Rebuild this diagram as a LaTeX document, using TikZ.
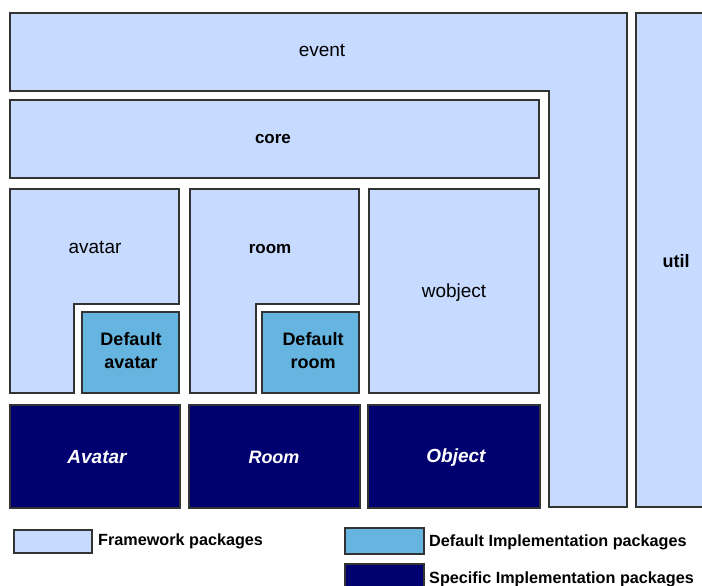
\documentclass[tikz,border=0pt]{standalone}
\usepackage{fontspec}
\setmainfont{Liberation Sans}
\definecolor{fwfill}{RGB}{198,219,255}
\definecolor{dffill}{RGB}{102,181,224}
\definecolor{spfill}{RGB}{0,0,112}
\definecolor{edge}{RGB}{51,51,51}
\begin{document}
\begin{tikzpicture}[x=1pt,y=-1pt,
  pkg/.style={draw=edge,line width=1.2pt,line join=miter},
  fw/.style={pkg,fill=fwfill},
  df/.style={pkg,fill=dffill},
  sp/.style={pkg,fill=spfill},
  lbl/.style={anchor=base,inner sep=0pt,text=black},
  reg/.style={lbl,font=\fontsize{19}{21}\selectfont},
  bld/.style={lbl,font=\fontsize{17}{19}\selectfont\bfseries},
  dfl/.style={lbl,align=center,anchor=center,font=\fontsize{18}{23}\selectfont\bfseries},
  spl/.style={lbl,text=white,font=\fontsize{19}{21}\selectfont\bfseries\itshape},
  leg/.style={anchor=base west,inner sep=0pt,font=\fontsize{16.2}{18}\selectfont\bfseries}]
\useasboundingbox (0,0) rectangle (702,586);
\clip (0,0) rectangle (702,586);

% framework packages
\draw[fw] (10,13) -- (627,13) -- (627,507) -- (549,507) -- (549,91) -- (10,91) -- cycle;
\draw[fw] (636,13) rectangle (715,507);
\draw[fw] (10,100) rectangle (539,178);
\draw[fw] (10,189) -- (179,189) -- (179,304) -- (74,304) -- (74,393) -- (10,393) -- cycle;
\draw[fw] (190,189) -- (359,189) -- (359,304) -- (256,304) -- (256,393) -- (190,393) -- cycle;
\draw[fw] (369,189) rectangle (539,393);

% default implementation packages
\draw[df] (82,312) rectangle (179,393);
\draw[df] (262,312) rectangle (359,393);

% specific implementation packages
\draw[sp] (10,405) rectangle (180,508);
\draw[sp] (189,405) rectangle (360,508);
\draw[sp] (368,405) rectangle (540,508);

% package names
\node[reg] (event) at (322,57) {event};
\node[bld] (core) at (273,143) {core};
\node[reg] (avatar) at (95,253) {avatar};
\node[bld] (room) at (270,253) {room};
\node[reg] (wobject) at (454,297) {wobject};
\node[bld,font=\fontsize{18}{20}\selectfont\bfseries] (util) at (676,267) {util};
\node[dfl] (defavatar) at (131,351) {Default\\avatar};
\node[dfl] (defroom) at (313,351) {Default\\room};
\node[spl] (spavatar) at (97,463) {Avatar};
\node[spl,font=\fontsize{18}{20}\selectfont\bfseries\itshape] (sproom) at (274,463) {Room};
\node[spl] (spobject) at (456,462) {Object};

% legend
\draw[fw] (14,530) rectangle (92,553);
\draw[df] (345,528) rectangle (424,554);
\draw[sp] (345,564) rectangle (424,600);
\node[leg] (legfw) at (98,545) {Framework packages};
\node[leg] (legdf) at (429,546) {Default Implementation packages};
\node[leg] (legsp) at (429,583) {Specific Implementation packages};
\end{tikzpicture}
\end{document}
